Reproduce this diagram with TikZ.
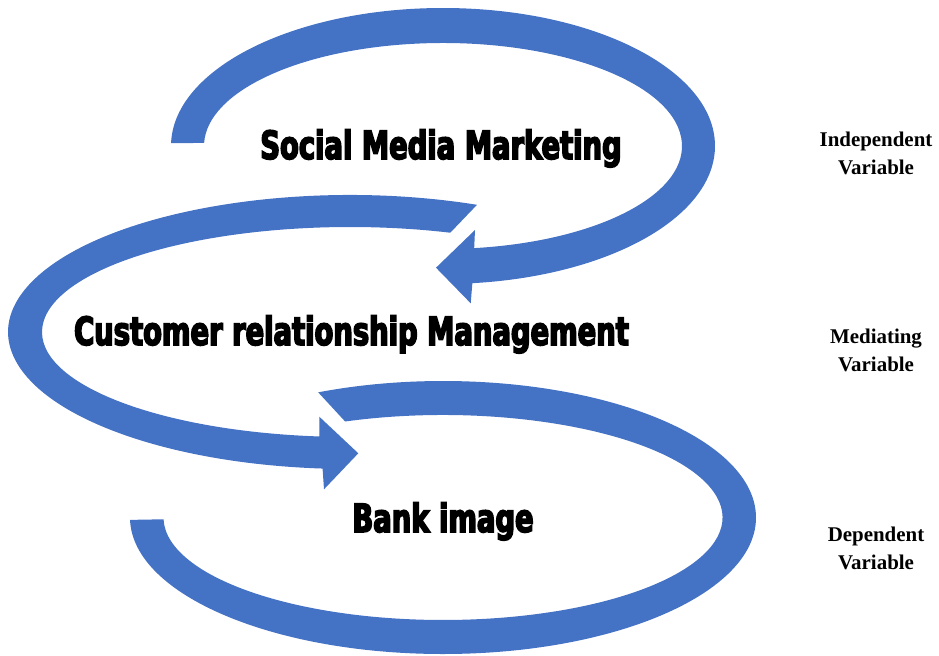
\documentclass[tikz,border=0pt]{standalone}
\usepackage{fontspec}
\usetikzlibrary{calc}
\newfontfamily\headfont{DejaVu Sans}[FakeStretch=0.705,FakeBold=4]
\newfontfamily\notefont{Liberation Serif}
\definecolor{ringblue}{HTML}{4472C4}
\tikzset{
  ring/.style={fill=ringblue},
  factor/.style={font=\headfont\bfseries\fontsize{39}{46}\selectfont, anchor=base, inner sep=0pt},
  role/.style={font=\notefont\bfseries\fontsize{21}{28}\selectfont, align=center, inner sep=0pt},
}
\begin{document}
\begin{tikzpicture}[x=1bp,y=-1bp]
\useasboundingbox (0,0) rectangle (939,656);
\coordinate (c1) at (443,146);
\coordinate (c2) at (350,332);
\coordinate (c3) at (443,517.5);

% bottom ring, open at the upper left
\fill[ring] ($(c3)+(179:313 and 136.5)$)
    arc[start angle=179, end angle=-113.5, x radius=313, y radius=136.5]
    -- ($(c3)+(-110.5:279.5 and 102.5)$)
    arc[start angle=-110.5, end angle=179, x radius=279.5, y radius=102.5] -- cycle;

% middle ring, head pointing right
\fill[ring] ($(c2)+(-68.2:342 and 137)$)
    arc[start angle=-68.2, end angle=-265.4, x radius=342, y radius=137]
    -- (324,489.3) -- (358.3,453.3) -- (319.3,416.7)
    -- ($(c2)+(-264.3:308 and 105)$)
    arc[start angle=-264.3, end angle=-71, x radius=308, y radius=105] -- cycle;

% top ring, head pointing left
\fill[ring] ($(c1)+(181.2:272 and 138)$)
    arc[start angle=181.2, end angle=443.8, x radius=272, y radius=138]
    -- (470.7,303.3) -- (436,267.7) -- (475,230)
    -- ($(c1)+(442.5:239 and 103)$)
    arc[start angle=442.5, end angle=181.7, x radius=239, y radius=103] -- cycle;

\node[factor] (smm) at (441,159) {Social Media Marketing};
\node[factor] (crm) at (351.5,345) {Customer relationship Management};
\node[factor] (bank) at (443,532) {Bank image};

\node[role] (iv) at (876,153) {Independent\\Variable};
\node[role] (mv) at (876,350) {Mediating\\Variable};
\node[role] (dv) at (876,548) {Dependent\\Variable};
\end{tikzpicture}
\end{document}
